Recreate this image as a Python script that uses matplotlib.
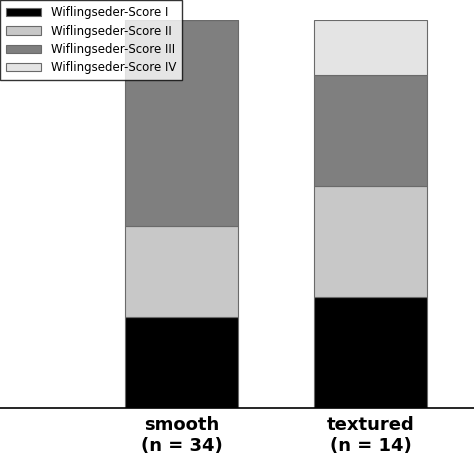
import matplotlib.pyplot as plt
import numpy as np

categories = ['smooth\n(n = 34)', 'textured\n(n = 14)']
series = ['Wiflingseder-Score I', 'Wiflingseder-Score II', 'Wiflingseder-Score III', 'Wiflingseder-Score IV']
# percent of implants per score
values = {
    'Wiflingseder-Score I': [23.5, 28.6],
    'Wiflingseder-Score II': [23.5, 28.6],
    'Wiflingseder-Score III': [53.0, 28.5],
    'Wiflingseder-Score IV': [0.0, 14.3],
}
colors = ['#000000', '#c8c8c8', '#7f7f7f', '#e4e4e4']

fig = plt.figure(figsize=(4.74, 4.74), dpi=100)
ax = fig.add_axes([0, 0.139, 1, 0.819])

x = np.arange(len(categories))
bottom = np.zeros(len(categories))
for name, c in zip(series, colors):
    v = np.array(values[name])
    ax.bar(x, v, 0.6, bottom=bottom, color=c, edgecolor='#6a6a6a', linewidth=0.8, label=name)
    bottom += v

ax.set_xlim(-0.96, 1.548)
ax.set_ylim(0, 100)
for s in ['top', 'left', 'right']:
    ax.spines[s].set_visible(False)
ax.spines['bottom'].set_linewidth(1.2)
ax.set_yticks([])
ax.set_xticks(x)
ax.set_xticklabels(categories, fontsize=13, fontweight='bold')
ax.tick_params(axis='x', length=0, pad=6)

leg = ax.legend(loc='upper left', bbox_to_anchor=(0, 1.05), fontsize=8.5, frameon=True,
                fancybox=False, edgecolor='black', borderaxespad=0, handlelength=3,
                labelspacing=0.45, borderpad=0.5)
leg.get_frame().set_linewidth(1)

fig.savefig('out.png', dpi=100)
